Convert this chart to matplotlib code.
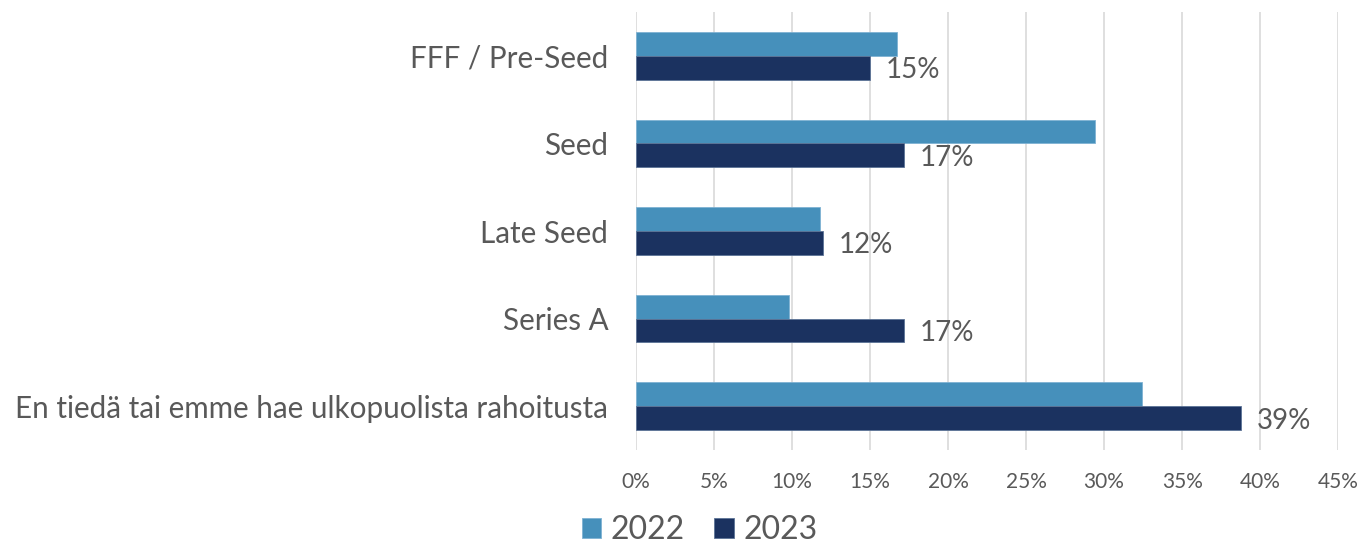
import matplotlib.pyplot as plt
import numpy as np

categories = ["FFF / Pre-Seed", "Seed", "Late Seed", "Series A",
              "En tiedä tai emme hae ulkopuolista rahoitusta"]
values_2022 = [16.7, 29.4, 11.8, 9.8, 32.4]
values_2023 = [15, 17.2, 12, 17.2, 38.8]
labels_2023 = ["15%", "17%", "12%", "17%", "39%"]
xticks = [0, 5, 10, 15, 20, 25, 30, 35, 40, 45]

light = "#4690BB"
dark = "#1B3260"
text_col = "#595959"

plt.rcParams["font.family"] = ["Lato", "DejaVu Sans"]

fig = plt.figure(figsize=(13.66, 5.52), dpi=100)
ax = fig.add_axes([0.4656, 0.185, 0.514, 0.793])

y = np.arange(len(categories))
h = 0.27
ax.barh(y - h / 2, values_2022, height=h, color=light, edgecolor="#7FB2D3",
        linewidth=0.6, label="2022", zorder=3)
ax.barh(y + h / 2, values_2023, height=h, color=dark, edgecolor="#5C7396",
        linewidth=0.6, label="2023", zorder=3)

for yi, v, lab in zip(y, values_2023, labels_2023):
    ax.text(v + 1.0, yi + h / 2 + 0.03, lab, va="center", ha="left",
            fontsize=20, color=text_col)

ax.set_xlim(0, 45)
ax.set_ylim(len(categories) - 0.5, -0.5)
ax.set_xticks(xticks)
ax.set_xticklabels([f"{t}%" for t in xticks], fontsize=15, color=text_col)
ax.set_yticks(y)
ax.set_yticklabels(categories, fontsize=21.3, color=text_col)
ax.tick_params(axis="both", length=0)
ax.tick_params(axis="y", pad=20)
ax.tick_params(axis="x", pad=16)
ax.grid(axis="x", color="#D9D9D9", linewidth=1.2, zorder=0)
for s in ax.spines.values():
    s.set_visible(False)

leg = fig.legend(loc="lower center", bbox_to_anchor=(0.512, -0.04), ncol=2,
                 frameon=False, fontsize=23, handlelength=0.62,
                 handleheight=0.62, handletextpad=0.3, columnspacing=0.9)
for t in leg.get_texts():
    t.set_color(text_col)

fig.savefig("out.png", dpi=100)
